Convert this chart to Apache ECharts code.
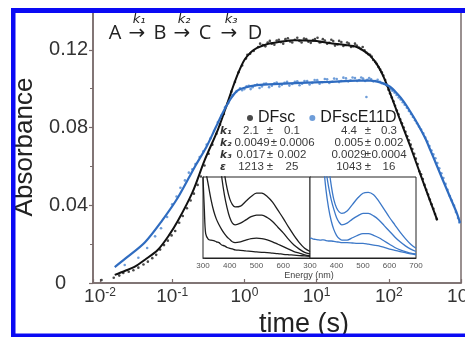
<!DOCTYPE html>
<html><head><meta charset="utf-8">
<script src="https://cdn.jsdelivr.net/npm/echarts@6/dist/echarts.min.js"></script>
<style>html,body{margin:0;padding:0;background:#fff;overflow:hidden}#c{width:465px;height:337px}</style>
</head><body><div id="c"></div>
<script>
// ---------- data ----------
const legendNames = ['DFsc', 'DFscE11D'];
const xTickExps = [-2, -1, 0, 1, 2, 3];
const yTickLabels = ['0', '0.04', '0.08', '0.12'];

const dfscDotT = [0.0105,0.0155,0.0185,0.021,0.025,0.029,0.034,0.04,0.046,0.053,0.06,0.068,0.077,0.087,0.098,0.11,0.125,0.14,0.16,0.18,0.2,0.225,0.25,0.28,0.32,0.36,0.41,0.46,0.52,0.59,0.66,0.74,0.83,0.93,1.05,1.2,1.35,1.55,1.8,2.1,2.4,2.8,3.2,3.7,4.3,5.0,5.8,6.7,7.7,8.9,10.3,11.5,13,15,17,19.5,22,25,28,32,36,41,46,52,58,65,72,80,89,99,110,122,136,152,170,190,212,237,265,296,330,370,415,460,
  1.1,1.65,1.95,2.25,2.6,3.0,3.45,4.0,4.6,5.4,6.2,7.2,8.3,9.5,11,12.2,14,16,18,20.5,23.5,26.5,30,34,38.5,43.5,49,55,61,68,76,84,94,104,116,129,144,161,180,201,225,251,280,313,350,392,437];
const dfscDotA = [0.0015,0.0027,0.0038,0.0052,0.0058,0.0066,0.0079,0.0095,0.011,0.0128,0.0145,0.0172,0.0195,0.0218,0.0245,0.0268,0.031,0.0345,0.0385,0.0425,0.046,0.0505,0.0548,0.0605,0.0665,0.0712,0.0768,0.0815,0.087,0.0925,0.0985,0.1035,0.1085,0.112,0.1155,0.118,0.1195,0.1215,0.1225,0.1238,0.1232,0.1248,0.124,0.1255,0.1243,0.1252,0.1246,0.1258,0.1242,0.125,0.1262,0.124,0.1248,0.1236,0.1245,0.1228,0.124,0.1225,0.1232,0.1218,0.1222,0.1205,0.1198,0.1178,0.1165,0.1138,0.1112,0.1085,0.1045,0.0995,0.0955,0.0912,0.0868,0.0822,0.0778,0.0735,0.069,0.064,0.0575,0.0535,0.048,0.043,0.0382,0.033,
  0.1175,0.1232,0.1218,0.1246,0.1226,0.1252,0.1232,0.126,0.1238,0.1262,0.1238,0.1255,0.1236,0.1256,0.1238,0.1255,0.1232,0.1252,0.1222,0.1246,0.122,0.1238,0.1215,0.1232,0.1212,0.1215,0.1186,0.1175,0.1148,0.1128,0.1098,0.1068,0.1018,0.0975,0.0935,0.0888,0.0842,0.08,0.0755,0.0712,0.0665,0.0612,0.056,0.0505,0.0455,0.0405,0.0355];

const dfscFitT = [0.016,0.022,0.03,0.042,0.063,0.09,0.12,0.19,0.28,0.43,0.55,0.67,0.82,1.0,1.25,1.5,2.0,3.0,5.0,10,15,25,36,45,55,70,85,100,140,200,270,370,470];
const dfscFitA = [0.0042,0.0062,0.0083,0.012,0.017,0.0245,0.032,0.0465,0.063,0.079,0.09,0.0993,0.108,0.1148,0.119,0.121,0.1228,0.124,0.125,0.1245,0.1235,0.1225,0.1215,0.1195,0.117,0.112,0.106,0.0995,0.085,0.07,0.0566,0.0427,0.0322];

const e11DotT = [0.022,0.034,0.045,0.058,0.07,0.085,0.1,0.115,0.13,0.15,0.17,0.19,0.21,0.24,0.27,0.3,0.34,0.38,0.43,0.48,0.54,0.6,0.68,0.77,0.87,1.0,1.15,1.3,1.5,1.75,2.0,2.4,2.8,3.3,3.9,4.6,5.4,6.3,7.4,8.7,10.2,12,14,16.5,19,22,25.5,29.5,34,39,44,49,50.5,57,65,75,86,98,112,128,146,166,190,216,246,280,320,365,415,470,535,610,700,800,910,
  0.93,1.07,1.22,1.4,1.62,1.87,2.2,2.6,3.05,3.6,4.2,5.0,5.8,6.8,8.0,9.4,11,13,15,17.5,20.5,23.5,27.5,31.5,36.5,41.5,47,53.5,61,70,80,92,105,120,137,156,178,203,231,262,300,342,390,442,500,570,650,745,850,950];
const e11DotA = [0.0093,0.013,0.018,0.024,0.0282,0.034,0.0405,0.0445,0.049,0.0528,0.0568,0.0585,0.0612,0.0648,0.0678,0.0712,0.0745,0.0782,0.0828,0.0862,0.0905,0.0932,0.0968,0.0985,0.1002,0.0998,0.1015,0.1008,0.1022,0.1012,0.1026,0.1015,0.1032,0.102,0.1035,0.1024,0.1038,0.1026,0.104,0.103,0.1044,0.1033,0.1048,0.1036,0.105,0.104,0.1053,0.1042,0.1055,0.1045,0.1052,0.0957,0.1046,0.1048,0.104,0.1036,0.1025,0.1012,0.099,0.0968,0.0945,0.0918,0.0885,0.0855,0.0822,0.079,0.0748,0.0705,0.0662,0.0618,0.0565,0.051,0.0448,0.0398,0.0335,
  0.0992,0.1012,0.0998,0.1018,0.1004,0.1025,0.1008,0.1028,0.1012,0.103,0.1016,0.1036,0.1018,0.104,0.1022,0.1045,0.1026,0.105,0.103,0.1052,0.1034,0.1057,0.1038,0.1058,0.104,0.1058,0.104,0.1055,0.1038,0.1046,0.1028,0.102,0.0998,0.098,0.0955,0.093,0.0902,0.087,0.0838,0.0805,0.077,0.0728,0.0682,0.0642,0.059,0.054,0.048,0.0425,0.0365,0.0312];

const e11FitT = [0.016,0.024,0.042,0.072,0.12,0.207,0.3,0.4,0.5,0.65,0.8,1.0,1.5,3,6,15,36,55,80,104,130,160,200,250,320,380,450,560,700,875,970];
const e11FitA = [0.0082,0.0134,0.021,0.032,0.044,0.06,0.0703,0.08,0.0875,0.095,0.099,0.1005,0.1018,0.1025,0.103,0.1035,0.1042,0.1042,0.103,0.101,0.0975,0.0935,0.088,0.082,0.0745,0.068,0.0615,0.053,0.0445,0.036,0.031];

// inset spectra (wavelength in nm, relative absorbance)
const wavelengths = [300,305,310,320,330,340,350,360,370,380,390,400,410,420,440,460,480,500,520,540,560,580,600,620,640,660,680,700];
const dfscSpec1 = [3,3,3,3,3,2.6,2.2,1.8,1.4,1.05,0.86,0.73,0.66,0.63,0.64,0.7,0.76,0.8,0.8,0.76,0.69,0.59,0.49,0.38,0.28,0.19,0.12,0.08];
const dfscSpec2 = [3,3,3,3,2.6,2.1,1.7,1.3,1.0,0.78,0.62,0.5,0.43,0.41,0.43,0.47,0.51,0.53,0.53,0.5,0.45,0.38,0.31,0.23,0.16,0.11,0.07,0.05];
const dfscSpec3 = [3,1.6,1.1,0.9,0.72,0.58,0.48,0.41,0.35,0.3,0.26,0.23,0.2,0.19,0.2,0.22,0.24,0.245,0.24,0.225,0.2,0.17,0.14,0.11,0.08,0.06,0.04,0.03];
const dfscSpec4 = [1.0,0.6,0.3,0.23,0.22,0.215,0.2,0.19,0.16,0.15,0.13,0.12,0.112,0.1,0.095,0.088,0.082,0.075,0.07,0.066,0.06,0.055,0.046,0.04,0.035,0.03,0.025,0.02];
const e11Spec1 = [3,3,3,3,3,3,2.2,1.5,1.15,0.9,0.72,0.62,0.57,0.55,0.58,0.66,0.74,0.8,0.81,0.78,0.7,0.6,0.5,0.41,0.32,0.24,0.17,0.12];
const e11Spec2 = [3,3,3,3,3,2.2,1.5,1.1,0.88,0.72,0.6,0.5,0.44,0.41,0.43,0.48,0.52,0.55,0.55,0.52,0.47,0.4,0.33,0.26,0.2,0.15,0.11,0.08];
const e11Spec3 = [3,3,3,3,2.4,1.7,1.2,0.85,0.62,0.46,0.35,0.28,0.24,0.22,0.22,0.25,0.28,0.3,0.3,0.28,0.25,0.21,0.17,0.13,0.1,0.08,0.06,0.05];
const e11Spec4 = [0.24,0.245,0.235,0.23,0.225,0.22,0.225,0.215,0.21,0.21,0.205,0.2,0.195,0.19,0.19,0.185,0.18,0.18,0.17,0.16,0.15,0.13,0.11,0.095,0.08,0.065,0.05,0.04];
const inspTicks = [300,400,500,600,700];

const tableRows = [
  ['k\u2081', '2.1', '\u00b1', '0.1', '4.4', '\u00b1', '0.3'],
  ['k\u2082', '0.0049', '\u00b1', '0.0006', '0.005', '\u00b1', '0.002'],
  ['k\u2083', '0.017', '\u00b1', '0.002', '0.0029', '\u00b1', '0.0004'],
  ['\u03b5', '1213', '\u00b1', '25', '1043', '\u00b1', '16']
];
const schemeLetters = ['A', 'B', 'C', 'D'];
const schemeRates = ['k\u2081', 'k\u2082', 'k\u2083'];

// ---------- build ----------
const zip = (a, b) => a.map((v, i) => [v, b[i]]);
const FONT = 'Liberation Sans, Arial, sans-serif';
const AX = '#7a6c6c';

const chart = echarts.init(document.getElementById('c'), null, {renderer: 'canvas', width: 465, height: 337});

const txt = (text, x, y, font, fill, align) => ({type: 'text', z: 50, silent: true,
  style: {text: text, x: x, y: y, textAlign: align || 'center', align: align || 'center', textVerticalAlign: 'middle', verticalAlign: 'middle', font: font, fill: fill}});

const graphic = [];
// table
const colX = [251, 270, 292, 349, 368, 389];
const colXRow2 = [252, 274, 297, 349, 368, 389];
tableRows.forEach((row, i) => {
  const y = 131 + i * 12;
  graphic.push(txt(row[0], 220, y, 'italic bold 10.5px DejaVu Sans', '#333', 'left'));
  const cx = i === 1 ? colXRow2 : colX;
  for (let j = 1; j < row.length; j++) graphic.push(txt(row[j], cx[j - 1], y, '11.5px ' + FONT, '#3a3a3a'));
});
// reaction scheme
const letterX = [115, 160, 205, 255];
const arrowX = [137, 182, 229];
schemeLetters.forEach((t, i) => graphic.push(txt(t, letterX[i], 33, '20px Open Sans', '#222')));
schemeRates.forEach((t, i) => {
  graphic.push(txt('\u2192', arrowX[i], 34, '20px DejaVu Sans', '#222'));
  graphic.push(txt(t, arrowX[i] + 2, 20, 'italic 13px DejaVu Sans', '#222'));
});
// inset x title
graphic.push(txt('Energy (nm)', 309, 276, '9px ' + FONT, '#444'));
// blue frame (left, top, bottom bars)
const BLUE = '#0a0af4';
graphic.push({type: 'rect', z: 100, silent: true, shape: {x: 11, y: 8, width: 4.5, height: 329}, style: {fill: BLUE}});
graphic.push({type: 'rect', z: 100, silent: true, shape: {x: 11, y: 8, width: 454, height: 5}, style: {fill: BLUE}});
graphic.push({type: 'rect', z: 100, silent: true, shape: {x: 11, y: 333.5, width: 454, height: 3.5}, style: {fill: BLUE}});

function insetX(gi, hideMax) {
  return {type: 'value', gridIndex: gi, min: 300, max: 700, interval: 100,
    axisLine: {show: true, onZero: false, lineStyle: {color: '#222', width: 1}},
    axisTick: {show: false}, splitLine: {show: false},
    axisLabel: {fontSize: 8, color: '#555', margin: 4, fontFamily: FONT,
      formatter: v => (hideMax && v === 700) ? '' : (inspTicks.indexOf(v) >= 0 ? String(v) : '')}};
}
function insetY(gi, ticks) {
  return {type: 'value', gridIndex: gi, min: 0, max: 1, interval: 0.25,
    axisLine: {show: true, lineStyle: {color: '#222', width: 1}},
    axisTick: {show: ticks, inside: true, length: 2, lineStyle: {color: '#444'}},
    axisLabel: {show: false}, splitLine: {show: false}};
}
const specSeries = (arr, gi, color) => arr.map(a => ({type: 'line', xAxisIndex: gi, yAxisIndex: gi, data: zip(wavelengths, a), showSymbol: false, smooth: 0.3, clip: true, silent: true,
  lineStyle: {color: color, width: 1.3}, z: 5}));

const gridBase = {outerBoundsMode: 'none', containLabel: false};
const option = {
  animation: false,
  backgroundColor: '#fff',
  textStyle: {fontFamily: FONT},
  grid: [
    Object.assign({left: 93, top: 11, right: 4, bottom: 54, show: true, borderColor: AX, borderWidth: 1.5, backgroundColor: 'transparent'}, gridBase),
    Object.assign({left: 203, top: 177, width: 107, height: 81, show: true, borderColor: '#222', borderWidth: 1, backgroundColor: '#fff', z: 4}, gridBase),
    Object.assign({left: 310, top: 177, width: 106, height: 81, show: true, borderColor: '#222', borderWidth: 1, backgroundColor: '#fff', z: 4}, gridBase)
  ],
  legend: {
    data: legendNames.map(n => ({name: n, icon: 'circle'})),
    left: 247, top: 110, padding: 0, itemWidth: 6, itemHeight: 6, itemGap: 14,
    textStyle: {fontSize: 16, color: '#1a1a1a', fontFamily: FONT}, selectedMode: false
  },
  xAxis: [
    {type: 'log', logBase: 10, min: 0.008, max: 1000, gridIndex: 0,
      name: 'time (s)', nameLocation: 'middle', nameGap: 26,
      nameTextStyle: {fontSize: 27, color: '#222', fontFamily: FONT, padding: [0, 0, 0, 54]},
      axisLine: {show: true, onZero: false, lineStyle: {color: AX, width: 1.5}},
      axisTick: {show: true, inside: true, length: 4, lineStyle: {color: AX, width: 1.2}},
      minorTick: {show: false}, splitLine: {show: false},
      axisLabel: {margin: 4, color: '#333', hideOverlap: false,
        formatter: v => {
          const l = Math.log10(v), e = Math.round(l);
          if (Math.abs(l - e) > 0.01 || xTickExps.indexOf(e) < 0) return '';
          return '{b|10}{s|' + e + '}';
        },
        rich: {b: {fontSize: 19, color: '#333', fontFamily: FONT}, s: {fontSize: 12, color: '#333', fontFamily: FONT, verticalAlign: 'top'}}
      }},
    insetX(1, true), insetX(2, false)
  ],
  yAxis: [
    {type: 'value', min: 0, max: 0.14, interval: 0.04, gridIndex: 0,
      name: 'Absorbance', nameLocation: 'middle', nameGap: 55,
      nameTextStyle: {fontSize: 26, color: '#222', fontFamily: FONT},
      axisLine: {show: true, lineStyle: {color: AX, width: 1.5}},
      axisTick: {show: true, length: 4, lineStyle: {color: AX, width: 1.2}},
      minorTick: {show: true, splitNumber: 2, length: 3, lineStyle: {color: AX, width: 1}},
      splitLine: {show: false},
      axisLabel: {margin: 5, fontSize: 20, color: '#333', fontFamily: FONT,
        formatter: v => {
          const idx = Math.round(v / 0.04);
          if (Math.abs(v - idx * 0.04) > 1e-6 || idx >= yTickLabels.length) return '';
          return idx === 0 ? '{z|' + yTickLabels[0] + '}' : yTickLabels[idx];
        },
        rich: {z: {fontSize: 20, color: '#333', fontFamily: FONT, padding: [0, 22, 0, 0]}}
      }},
    insetY(1, true), insetY(2, false)
  ],
  graphic: graphic,
  series: [
    {type: 'scatter', name: legendNames[0], data: zip(dfscDotT, dfscDotA), symbolSize: 2.6, itemStyle: {color: '#1b1b1b'}, z: 2, silent: true},
    {type: 'scatter', name: legendNames[1], data: zip(e11DotT, e11DotA), symbolSize: 2.6, itemStyle: {color: '#4a84d0'}, z: 2, silent: true},
    {type: 'line', name: 'DFsc fit', data: zip(dfscFitT, dfscFitA), showSymbol: false, smooth: 0.3, silent: true, lineStyle: {color: '#111', width: 2}, z: 3},
    {type: 'line', name: 'DFscE11D fit', data: zip(e11FitT, e11FitA), showSymbol: false, smooth: 0.3, silent: true, lineStyle: {color: '#2f6cc0', width: 2.2}, z: 3}
  ].concat(specSeries([dfscSpec1, dfscSpec2, dfscSpec3, dfscSpec4], 1, '#1e1e1e'))
   .concat(specSeries([e11Spec1, e11Spec2, e11Spec3, e11Spec4], 2, '#3c78c8'))
};
chart.setOption(option);
</script>
</body></html>
